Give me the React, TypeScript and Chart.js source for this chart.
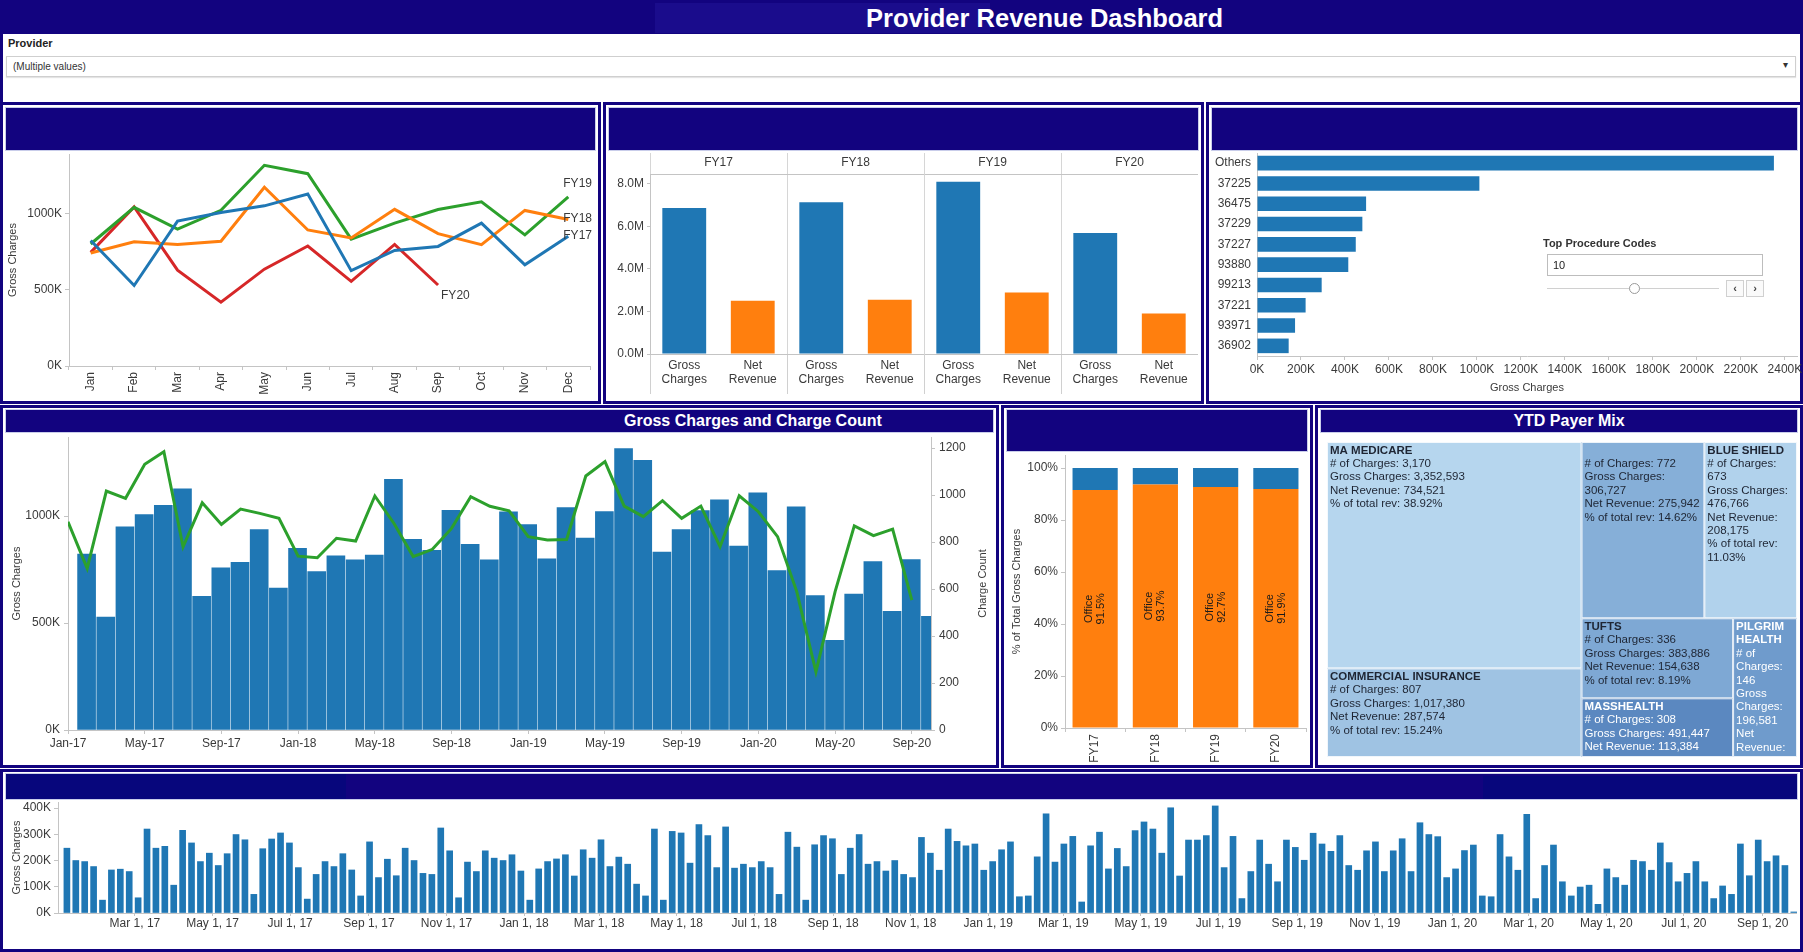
import React, { useEffect, useRef } from "react";
import { Chart, registerables } from "chart.js";

Chart.register(...registerables);

const FONT = "'Liberation Sans', Arial, Helvetica, sans-serif";
Chart.defaults.font.family = FONT;
Chart.defaults.font.size = 12;
Chart.defaults.color = "#3a3a3a";

const NAVY = "#12037f";
const BLUE = "#1f77b4";
const ORANGE = "#ff7f0e";
const GREEN = "#2ca02c";
const RED = "#d62728";
const AXIS = "#c4c4c4";

// ---------------- data ----------------
const monthNames = ["Jan", "Feb", "Mar", "Apr", "May", "Jun", "Jul", "Aug", "Sep", "Oct", "Nov", "Dec"];
const fiscalYears = ["FY17", "FY18", "FY19", "FY20"];
const calendarYears = ["17", "18", "19", "20"];

// Monthly gross charges (K)
const fy17Gross = [823, 528, 950, 1007, 1050, 1128, 625, 758, 784, 937, 664, 850];
const fy18Gross = [741, 814, 796, 818, 1172, 892, 840, 1027, 868, 796, 1020, 961];
const fy19Gross = [800, 1040, 897, 1021, 1316, 1261, 832, 937, 1026, 1076, 860, 1109];
const fy20Gross = [745, 1043, 628, 419, 635, 787, 555, 797, 531];
const lineYTicks = [0, 500, 1000];

const monthlyGross = [...fy17Gross, ...fy18Gross, ...fy19Gross, ...fy20Gross];
const monthlyChargeCount = [
  886, 688, 1017, 986, 1131, 1184, 780, 967, 875, 940, 922, 901,
  740, 733, 816, 804, 996, 879, 738, 769, 858, 993, 952, 933,
  823, 809, 811, 1081, 1142, 953, 908, 976, 901, 953, 780, 997,
  929, 823, 589, 248, 589, 869, 827, 855, 553,
];
const comboTickLabels = ["Jan-17", "May-17", "Sep-17", "Jan-18", "May-18", "Sep-18", "Jan-19", "May-19", "Sep-19", "Jan-20", "May-20", "Sep-20"];
const comboGrossTicks = [0, 500, 1000];
const comboCountTicks = [0, 200, 400, 600, 800, 1000, 1200];

// Yearly totals (M)
const fyGrossTotal = [6.87, 7.14, 8.1, 5.69];
const fyNetRevenue = [2.5, 2.55, 2.89, 1.9];
const fyMeasures = [["Gross", "Charges"], ["Net", "Revenue"]];
const fyYTicks = [0, 2, 4, 6, 8];

// Top procedure codes (K)
const procedureCodes = ["Others", "37225", "36475", "37229", "37227", "93880", "99213", "37221", "93971", "36902"];
const procedureGross = [2350, 1011, 496, 479, 449, 415, 294, 221, 173, 144];
const procedureTicks = [0, 200, 400, 600, 800, 1000, 1200, 1400, 1600, 1800, 2000, 2200, 2400];

// Place of service (%)
const officeShare = [91.5, 93.7, 92.7, 91.9];
const otherPosShare = [8.5, 6.3, 7.3, 8.1];
const posTicks = [0, 20, 40, 60, 80, 100];

// Payer mix
const payerNames = ["MA MEDICARE", "COMMERCIAL INSURANCE", "", "BLUE SHIELD", "TUFTS", "MASSHEALTH", "PILGRIM HEALTH"];
const payerChargeCount = [3170, 807, 772, 673, 336, 308, 146];
const payerGross = [3352593, 1017380, 306727, 476766, 383886, 491447, 196581];
const payerNetRevenue = [734521, 287574, 275942, 208175, 154638, 113384, 113024];
const payerRevShare = [38.92, 15.24, 14.62, 11.03, 8.19, 6.01, 5.99];
const payerColors = ["#b6d6ee", "#9fc3e3", "#86afd8", "#b1d2ec", "#7ea8d4", "#5b88c0", "#6f9bcc"];
const payerTextColors = ["#1e2533", "#1e2533", "#1e2533", "#1e2533", "#1e2533", "#ffffff", "#ffffff"];
type TreeNode = number | { split: "h" | "v"; children: TreeNode[] };
const payerTree: TreeNode = {
  split: "h",
  children: [
    { split: "v", children: [0, 1] },
    {
      split: "v",
      children: [
        { split: "h", children: [2, 3] },
        { split: "h", children: [{ split: "v", children: [4, 5] }, 6] },
      ],
    },
  ],
};

// Weekly gross charges (K), weeks from Jan 2017
const weeklyGross = [
  247, 200, 196, 177, 49, 164, 167, 158, 58, 320, 247, 254, 106, 315, 267, 196, 228, 181, 226, 299,
  279, 71, 245, 282, 305, 267, 173, 53, 147, 196, 177, 226, 164, 65, 271, 135, 205, 142, 247, 200,
  151, 147, 324, 237, 58, 194, 158, 237, 209, 200, 222, 160, 49, 168, 196, 206, 222, 141, 241, 209,
  279, 177, 213, 186, 110, 65, 320, 49, 311, 305, 190, 337, 295, 173, 328, 171, 186, 173, 196, 173,
  71, 308, 251, 49, 260, 295, 283, 147, 247, 299, 186, 196, 160, 200, 147, 135, 288, 228, 163, 320,
  273, 256, 263, 163, 196, 241, 271, 62, 65, 214, 378, 194, 263, 292, 42, 256, 308, 168, 246, 177,
  314, 347, 320, 228, 401, 141, 278, 278, 295, 408, 173, 292, 55, 158, 278, 186, 119, 278, 250, 201,
  304, 263, 235, 295, 181, 163, 237, 271, 158, 237, 283, 158, 344, 299, 291, 135, 168, 238, 259, 65,
  62, 299, 214, 163, 376, 55, 181, 259, 119, 65, 99, 106, 33, 168, 135, 106, 201, 196, 163, 267,
  192, 119, 151, 196, 119, 55, 103, 71, 263, 142, 278, 196, 218, 181, 4,
];
const weeklyTickLabels = [
  "Mar 1, 17", "May 1, 17", "Jul 1, 17", "Sep 1, 17", "Nov 1, 17",
  "Jan 1, 18", "Mar 1, 18", "May 1, 18", "Jul 1, 18", "Sep 1, 18", "Nov 1, 18",
  "Jan 1, 19", "Mar 1, 19", "May 1, 19", "Jul 1, 19", "Sep 1, 19", "Nov 1, 19",
  "Jan 1, 20", "Mar 1, 20", "May 1, 20", "Jul 1, 20", "Sep 1, 20",
];
const weeklyYTicks = [0, 100, 200, 300, 400];

// ---------------- helpers ----------------
const setTicks = (vals: number[]) => (axis: any) => {
  axis.ticks = vals.map((v) => ({ value: v }));
};
const noPad = (s: any) => {
  s.paddingTop = 0;
  s.paddingBottom = 0;
  s.paddingLeft = 0;
  s.paddingRight = 0;
};
const fixW = (w: number) => (s: any) => {
  s.width = w;
  noPad(s);
};
const fixH = (h: number) => (s: any) => {
  s.height = h;
  noPad(s);
};
const base = {
  responsive: false,
  animation: false as const,
  devicePixelRatio: 1,
  events: [] as any[],
  plugins: { legend: { display: false }, tooltip: { enabled: false } },
};
const tickGrid = (len: number, offset = false) => ({
  display: true,
  drawOnChartArea: false,
  tickLength: len,
  color: AXIS,
  offset,
});

const endLabelOffsets: Record<string, [number, number]> = {
  FY17: [-5, -1],
  FY18: [-5, -1],
  FY19: [-5, -13],
  FY20: [3, 11],
};
const endLabelPlugin = {
  id: "endLabels",
  afterDatasetsDraw(chart: any) {
    const ctx = chart.ctx;
    ctx.save();
    ctx.font = `12px ${FONT}`;
    ctx.fillStyle = "#3a3a3a";
    ctx.textBaseline = "middle";
    ctx.textAlign = "left";
    chart.data.datasets.forEach((ds: any, i: number) => {
      const meta = chart.getDatasetMeta(i);
      const pt = meta.data[meta.data.length - 1];
      const off = endLabelOffsets[ds.label] || [0, 0];
      ctx.fillText(ds.label, pt.x + off[0], pt.y + off[1]);
    });
    ctx.restore();
  },
};

const axisTitlePlugin = (text: string, axisId: string, dx: number) => ({
  id: "axisTitle_" + axisId,
  afterDraw(chart: any) {
    const s = chart.scales[axisId];
    const { ctx, chartArea } = chart;
    ctx.save();
    ctx.font = `11px ${FONT}`;
    ctx.fillStyle = "#3a3a3a";
    ctx.textAlign = "center";
    ctx.textBaseline = "middle";
    ctx.translate(s.left + dx, (chartArea.top + chartArea.bottom) / 2);
    ctx.rotate(-Math.PI / 2);
    ctx.fillText(text, 0, 0);
    ctx.restore();
  },
});

const officeLabelPlugin = {
  id: "officeLabels",
  afterDatasetsDraw(chart: any) {
    const { ctx } = chart;
    const meta = chart.getDatasetMeta(0);
    ctx.save();
    ctx.fillStyle = "#1a1a1a";
    ctx.font = `11px ${FONT}`;
    ctx.textAlign = "center";
    ctx.textBaseline = "middle";
    meta.data.forEach((bar: any, i: number) => {
      const cy = (bar.y + bar.base) / 2;
      ctx.save();
      ctx.translate(bar.x, cy);
      ctx.rotate(-Math.PI / 2);
      ctx.fillText(chart.data.datasets[0].label, 0, -6);
      ctx.fillText(`${officeShare[i].toFixed(1)}%`, 0, 6);
      ctx.restore();
    });
    ctx.restore();
  },
};

function nodeWeight(n: TreeNode): number {
  return typeof n === "number" ? payerNetRevenue[n] : n.children.reduce((s, c) => s + nodeWeight(c), 0);
}
function layoutTree(n: TreeNode, x0: number, y0: number, x1: number, y1: number, out: any[]) {
  if (typeof n === "number") {
    out.push({ i: n, x0, y0, x1, y1 });
    return;
  }
  const total = nodeWeight(n);
  let acc = 0;
  n.children.forEach((c) => {
    const w = nodeWeight(c);
    const a = acc / total;
    const b = (acc + w) / total;
    acc += w;
    if (n.split === "h") layoutTree(c, x0 + (x1 - x0) * a, y0, x0 + (x1 - x0) * b, y1, out);
    else layoutTree(c, x0, y0 + (y1 - y0) * a, x1, y0 + (y1 - y0) * b, out);
  });
}
function wrapText(ctx: any, text: string, maxW: number): string[] {
  if (!text) return [""];
  const words = text.split(" ");
  const lines: string[] = [];
  let cur = "";
  words.forEach((w) => {
    const test = cur ? cur + " " + w : w;
    if (cur && ctx.measureText(test).width > maxW) {
      lines.push(cur);
      cur = w;
    } else cur = test;
  });
  if (cur) lines.push(cur);
  return lines;
}
const fmt = (n: number) => n.toLocaleString("en-US");

const treemapPlugin = {
  id: "treemap",
  afterDatasetsDraw(chart: any) {
    const { ctx, scales } = chart;
    const xs = scales.x;
    const ys = scales.y;
    const cells: any[] = [];
    layoutTree(payerTree, 0, 0, 1, 1, cells);
    ctx.save();
    cells.forEach((c) => {
      const px0 = xs.getPixelForValue(c.x0);
      const px1 = xs.getPixelForValue(c.x1);
      const py0 = ys.getPixelForValue(c.y0);
      const py1 = ys.getPixelForValue(c.y1);
      const w = px1 - px0;
      const h = py1 - py0;
      ctx.fillStyle = payerColors[c.i];
      ctx.fillRect(px0, py0, w, h);
      ctx.strokeStyle = "rgba(255,255,255,0.85)";
      ctx.lineWidth = 1;
      ctx.strokeRect(px0 + 0.5, py0 + 0.5, w - 1, h - 1);
      ctx.save();
      ctx.beginPath();
      ctx.rect(px0, py0, w, h);
      ctx.clip();
      ctx.fillStyle = payerTextColors[c.i];
      ctx.textBaseline = "middle";
      ctx.textAlign = "left";
      const lines = [
        { text: payerNames[c.i], bold: true },
        { text: `# of Charges: ${fmt(payerChargeCount[c.i])}`, bold: false },
        { text: `Gross Charges: ${fmt(payerGross[c.i])}`, bold: false },
        { text: `Net Revenue: ${fmt(payerNetRevenue[c.i])}`, bold: false },
        { text: `% of total rev: ${payerRevShare[c.i].toFixed(2)}%`, bold: false },
      ];
      let ly = py0 + 8.5;
      lines.forEach((line) => {
        ctx.font = `${line.bold ? "bold " : ""}11.5px ${FONT}`;
        wrapText(ctx, line.text, w - 4).forEach((t) => {
          if (ly + 5 <= py1) ctx.fillText(t, px0 + 3, ly);
          ly += 13.4;
        });
      });
      ctx.restore();
    });
    ctx.restore();
  },
};

// ---------------- chart configs ----------------
const lineConfig = () => ({
  type: "line",
  data: {
    labels: monthNames,
    datasets: [
      { label: "FY17", data: fy17Gross, borderColor: BLUE },
      { label: "FY18", data: fy18Gross, borderColor: ORANGE },
      { label: "FY19", data: fy19Gross, borderColor: GREEN },
      { label: "FY20", data: fy20Gross, borderColor: RED },
    ].map((d) => ({ ...d, borderWidth: 3, pointRadius: 0, tension: 0, fill: false })),
  },
  options: {
    ...base,
    layout: { autoPadding: false, padding: { top: 2, right: 7, left: 0, bottom: 0 } },
    scales: {
      x: {
        offset: true,
        grid: tickGrid(4, true),
        border: { color: AXIS },
        ticks: { autoSkip: false, minRotation: 90, maxRotation: 90, padding: 2 },
        afterFit: fixH(34),
      },
      y: {
        min: 0,
        max: 1390,
        afterBuildTicks: setTicks(lineYTicks),
        ticks: { callback: (v: number) => `${v}K`, padding: 3 },
        grid: tickGrid(4),
        border: { color: AXIS },
        title: { display: true, text: "Gross Charges", font: { size: 11 }, padding: { top: 0, bottom: 0 } },
        afterFit: fixW(63),
      },
    },
  },
  plugins: [endLabelPlugin],
});

const fyConfig = () => {
  const labels = fiscalYears.flatMap(() => fyMeasures);
  const values = fiscalYears.flatMap((_, i) => [fyGrossTotal[i], fyNetRevenue[i]]);
  const colors = fiscalYears.flatMap(() => [BLUE, ORANGE]);
  return {
    type: "bar",
    data: {
      labels,
      datasets: [
        { data: values, backgroundColor: colors, xAxisID: "x", yAxisID: "y", barPercentage: 0.64, categoryPercentage: 1 },
      ],
    },
    options: {
      ...base,
      layout: { autoPadding: false, padding: 0 },
      scales: {
        x: {
          type: "category",
          position: "bottom",
          grid: {
            offset: true,
            drawOnChartArea: false,
            tickLength: 40,
            color: (c: any) => (c.index % 2 === 0 ? "#d0d0d0" : "rgba(0,0,0,0)"),
          },
          border: { color: AXIS },
          ticks: { autoSkip: false, maxRotation: 0, padding: -36 },
          afterFit: fixH(44),
        },
        xTop: {
          type: "category",
          labels: fiscalYears,
          position: "top",
          grid: { offset: true, drawOnChartArea: true, tickLength: 21, color: "#d6d6d6" },
          border: { color: AXIS },
          ticks: { padding: -17 },
          afterFit: fixH(22),
        },
        y: {
          min: 0,
          max: 8.47,
          afterBuildTicks: setTicks(fyYTicks),
          ticks: { callback: (v: number) => `${v.toFixed(1)}M`, padding: 3 },
          grid: tickGrid(3),
          border: { color: AXIS },
          afterFit: fixW(41),
        },
      },
    },
  };
};

const procConfig = () => ({
  type: "bar",
  data: {
    labels: procedureCodes,
    datasets: [{ data: procedureGross, backgroundColor: BLUE, barPercentage: 0.72, categoryPercentage: 1 }],
  },
  options: {
    ...base,
    indexAxis: "y",
    layout: { autoPadding: false, padding: { top: 1, right: 6, left: 0, bottom: 0 } },
    scales: {
      x: {
        min: 0,
        max: 2455,
        afterBuildTicks: setTicks(procedureTicks),
        ticks: { callback: (v: number) => `${v}K`, padding: 2, maxRotation: 0, autoSkip: false },
        grid: tickGrid(4),
        border: { color: AXIS },
        title: { display: true, text: "Gross Charges", font: { size: 11 }, padding: { top: 2, bottom: 3 } },
        afterFit: fixH(42),
      },
      y: {
        grid: { display: false, drawTicks: false },
        border: { color: AXIS },
        ticks: { autoSkip: false, padding: 6 },
        afterFit: fixW(46),
      },
    },
  },
});

const comboConfig = () => {
  const monthLabels = calendarYears
    .flatMap((yy) => monthNames.map((m) => `${m}-${yy}`))
    .slice(0, monthlyGross.length);
  const tickIdx = comboTickLabels.map((l) => monthLabels.indexOf(l));
  return {
    type: "bar",
    data: {
      labels: monthLabels,
      datasets: [
        {
          type: "line",
          data: monthlyChargeCount.map((v, i) => ({ x: i, y: v })),
          borderColor: GREEN,
          borderWidth: 3,
          pointRadius: 0,
          tension: 0,
          xAxisID: "xl",
          yAxisID: "y2",
          order: 0,
        },
        {
          type: "bar",
          data: monthlyGross,
          backgroundColor: BLUE,
          xAxisID: "x",
          yAxisID: "y",
          barThickness: 18,
          order: 1,
        },
      ],
    },
    options: {
      ...base,
      layout: { autoPadding: false, padding: { top: 5, right: 0, left: 0, bottom: 0 } },
      scales: {
        x: { type: "category", display: false, offset: true, afterFit: noPad },
        xl: {
          type: "linear",
          position: "bottom",
          min: 0,
          max: monthlyGross.length,
          offset: false,
          afterBuildTicks: setTicks(tickIdx),
          ticks: { callback: (_v: number, i: number) => comboTickLabels[i], maxRotation: 0, autoSkip: false, padding: 2 },
          grid: tickGrid(4),
          border: { color: AXIS },
          afterFit: fixH(35),
        },
        y: {
          position: "left",
          min: 0,
          max: 1370,
          afterBuildTicks: setTicks(comboGrossTicks),
          ticks: { callback: (v: number) => `${v}K`, padding: 4 },
          grid: tickGrid(4),
          border: { color: AXIS },
          title: { display: true, text: "Gross Charges", font: { size: 11 } },
          afterFit: fixW(62),
        },
        y2: {
          position: "right",
          min: 0,
          max: 1247,
          afterBuildTicks: setTicks(comboCountTicks),
          ticks: { callback: (v: number) => String(v), padding: 4 },
          grid: tickGrid(4),
          border: { color: AXIS },
          afterFit: fixW(62),
        },
      },
    },
    plugins: [axisTitlePlugin("Charge Count", "y2", 52)],
  };
};

const posConfig = () => ({
  type: "bar",
  data: {
    labels: fiscalYears,
    datasets: [
      { label: "Office", data: officeShare, backgroundColor: ORANGE, barPercentage: 0.75, categoryPercentage: 1 },
      { label: "Other", data: otherPosShare, backgroundColor: BLUE, barPercentage: 0.75, categoryPercentage: 1 },
    ],
  },
  options: {
    ...base,
    layout: { autoPadding: false, padding: { top: 3, right: 2, left: 0, bottom: 0 } },
    scales: {
      x: {
        stacked: true,
        grid: tickGrid(4, true),
        border: { color: AXIS },
        ticks: { minRotation: 90, maxRotation: 90, padding: 2 },
        afterFit: fixH(37),
      },
      y: {
        stacked: true,
        min: 0,
        max: 105,
        afterBuildTicks: setTicks(posTicks),
        ticks: { callback: (v: number) => `${v}%`, padding: 3 },
        grid: tickGrid(4),
        border: { color: AXIS },
        title: { display: true, text: "% of Total Gross Charges", font: { size: 11 } },
        afterFit: fixW(59),
      },
    },
  },
  plugins: [officeLabelPlugin],
});

const treemapConfig = () => ({
  type: "scatter",
  data: { datasets: [{ data: [] as any[] }] },
  options: {
    ...base,
    layout: { autoPadding: false, padding: 0 },
    scales: {
      x: { type: "linear", min: 0, max: 1, display: false },
      y: { type: "linear", min: 0, max: 1, reverse: true, display: false },
    },
  },
  plugins: [treemapPlugin],
});

const weeklyConfig = () => {
  const origin = Date.UTC(2017, 0, 1);
  const dayOf = (label: string) => {
    const [mon, day, yy] = label.replace(",", "").split(" ");
    return (Date.UTC(2000 + Number(yy), monthNames.indexOf(mon), Number(day)) - origin) / 86400000;
  };
  const tickDays = weeklyTickLabels.map(dayOf);
  const weekMarkOffset = 5.5;
  return {
    type: "bar",
    data: {
      datasets: [
        {
          data: weeklyGross.map((v, i) => ({ x: i * 7 + weekMarkOffset, y: v })),
          backgroundColor: BLUE,
          barThickness: 6,
        },
      ],
    },
    options: {
      ...base,
      layout: { autoPadding: false, padding: { top: 2, right: 0, left: 0, bottom: 0 } },
      scales: {
        x: {
          type: "linear",
          min: -1.5,
          max: 1366,
          offset: false,
          afterBuildTicks: setTicks(tickDays),
          ticks: { callback: (_v: number, i: number) => weeklyTickLabels[i], maxRotation: 0, autoSkip: false, padding: 0 },
          grid: tickGrid(3),
          border: { color: AXIS },
          afterFit: fixH(36),
        },
        y: {
          min: 0,
          max: 423,
          afterBuildTicks: setTicks(weeklyYTicks),
          ticks: { callback: (v: number) => `${v}K`, padding: 3 },
          grid: tickGrid(4),
          border: { color: AXIS },
          title: { display: true, text: "Gross Charges", font: { size: 11 } },
          afterFit: fixW(52),
        },
      },
    },
  };
};

// ---------------- components ----------------
function ChartBox({ x, y, w, h, config }: { x: number; y: number; w: number; h: number; config: () => any }) {
  const ref = useRef<HTMLCanvasElement>(null);
  useEffect(() => {
    if (!ref.current) return;
    const chart = new Chart(ref.current, config());
    return () => chart.destroy();
  }, []);
  return (
    <canvas
      ref={ref}
      width={w}
      height={h}
      style={{ position: "absolute", left: x, top: y, width: w, height: h }}
    />
  );
}

const abs = (x: number, y: number, w: number, h: number, extra: any = {}) => ({
  position: "absolute" as const,
  left: x,
  top: y,
  width: w,
  height: h,
  boxSizing: "border-box" as const,
  ...extra,
});

function Frame({ x, y, w, h }: { x: number; y: number; w: number; h: number }) {
  return <div style={abs(x, y, w, h, { border: `3px solid ${NAVY}`, background: "#fff" })} />;
}
function TitleBar({ x, y, w, h, color = NAVY }: { x: number; y: number; w: number; h: number; color?: string }) {
  return <div style={abs(x, y, w, h, { background: color, boxShadow: "0 0 0 1px #c9cdea" })} />;
}

export default function App() {
  useEffect(() => {
    document.body.style.margin = "0";
  }, []);
  return (
    <div style={{ position: "absolute", left: 0, top: 0, width: 1803, height: 952, background: "#fff", overflow: "hidden", fontFamily: FONT }}>
      {/* header */}
      <div style={abs(0, 0, 1803, 34, { background: NAVY })} />
      <div style={abs(655, 3, 335, 30, { background: "#1a0c8c" })} />
      <div style={{ position: "absolute", left: 866, top: 3, font: `bold 25.5px ${FONT}`, color: "#fff", lineHeight: "30px", whiteSpace: "nowrap" }}>
        Provider Revenue Dashboard
      </div>
      {/* filter area */}
      <div style={abs(0, 34, 1803, 70, { borderLeft: `3px solid ${NAVY}`, borderRight: `3px solid ${NAVY}`, background: "#fff" })} />
      <div style={{ position: "absolute", left: 8, top: 37, font: `bold 11px ${FONT}`, color: "#222" }}>Provider</div>
      <div style={abs(6, 56, 1790, 21, { border: "1px solid #cfcfcf", background: "#fff", boxShadow: "0 1px 1px #e4e4e4" })} />
      <div style={{ position: "absolute", left: 13, top: 61, font: `10px ${FONT}`, color: "#333" }}>(Multiple values)</div>
      <div style={{ position: "absolute", left: 1783, top: 59, font: `10px ${FONT}`, color: "#333" }}>▾</div>

      {/* frames */}
      <Frame x={0} y={102} w={601} h={302} />
      <Frame x={603} y={102} w={601} h={302} />
      <Frame x={1206} y={102} w={597} h={302} />
      <Frame x={0} y={405} w={999} h={363} />
      <Frame x={1001} y={405} w={312} h={363} />
      <Frame x={1315} y={405} w={488} h={363} />
      <Frame x={0} y={769} w={1803} h={183} />

      {/* title bars */}
      <TitleBar x={6} y={108} w={589} h={42} />
      <TitleBar x={609} y={108} w={589} h={42} />
      <TitleBar x={1212} y={108} w={585} h={42} />
      <TitleBar x={6} y={410} w={987} h={22} />
      <TitleBar x={1007} y={410} w={300} h={41} />
      <TitleBar x={1321} y={410} w={476} h={22} />
      <TitleBar x={6} y={774} w={1791} h={25} />
      <div style={abs(6, 774, 340, 25, { background: "#07067c" })} />
      <div style={abs(1483, 776, 314, 23, { background: "#07067c" })} />
      <div style={{ position: "absolute", left: 624, top: 410, font: `bold 16px ${FONT}`, color: "#fff", lineHeight: "22px", whiteSpace: "nowrap" }}>
        Gross Charges and Charge Count
      </div>
      <div style={{ position: "absolute", left: 1321, top: 410, width: 476, paddingLeft: 20, boxSizing: "border-box", textAlign: "center", font: `bold 16px ${FONT}`, color: "#fff", lineHeight: "22px" }}>
        YTD Payer Mix
      </div>

      {/* charts */}
      <ChartBox x={6} y={152} w={591} h={248} config={lineConfig} />
      <ChartBox x={609} y={152} w={589} h={246} config={fyConfig} />
      <ChartBox x={1211} y={152} w={592} h={246} config={procConfig} />
      <ChartBox x={6} y={432} w={987} h={333} config={comboConfig} />
      <ChartBox x={1006} y={452} w={302} h={313} config={posConfig} />
      <ChartBox x={1327} y={442} w={470} h={315} config={treemapConfig} />
      <ChartBox x={6} y={800} w={1791} h={149} config={weeklyConfig} />

      {/* top procedure codes parameter control */}
      <div style={{ position: "absolute", left: 1543, top: 237, font: `bold 11px ${FONT}`, color: "#333", whiteSpace: "nowrap" }}>
        Top Procedure Codes
      </div>
      <div style={abs(1547, 254, 216, 22, { border: "1px solid #bdbdbd", background: "#fff", font: `11px ${FONT}`, color: "#222", padding: "4px 5px" })}>
        10
      </div>
      <div style={abs(1547, 288, 172, 1, { background: "#d0d0d0" })} />
      <div style={abs(1629, 283, 11, 11, { border: "1px solid #999", borderRadius: "50%", background: "#fff" })} />
      <div style={abs(1726, 280, 18, 17, { border: "1px solid #d0d0d0", background: "#fafafa", font: `bold 11px ${FONT}`, color: "#444", textAlign: "center", lineHeight: "15px" })}>
        ‹
      </div>
      <div style={abs(1746, 280, 18, 17, { border: "1px solid #d0d0d0", background: "#fafafa", font: `bold 11px ${FONT}`, color: "#444", textAlign: "center", lineHeight: "15px" })}>
        ›
      </div>
    </div>
  );
}
